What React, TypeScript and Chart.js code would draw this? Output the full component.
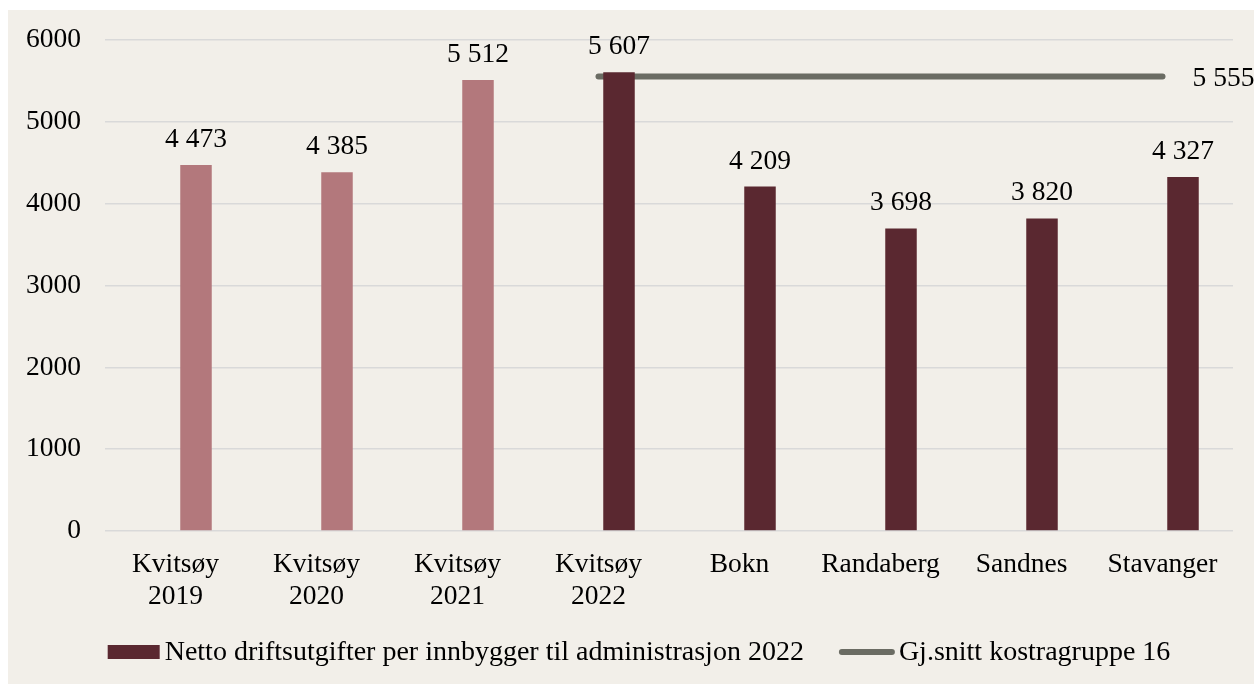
import React, { useEffect, useRef } from "react";
import { Chart, registerables } from "chart.js";

Chart.register(...registerables);

const categories: string[][] = [
  ["Kvitsøy", "2019"],
  ["Kvitsøy", "2020"],
  ["Kvitsøy", "2021"],
  ["Kvitsøy", "2022"],
  ["Bokn"],
  ["Randaberg"],
  ["Sandnes"],
  ["Stavanger"],
];
const barValues: number[] = [4473, 4385, 5512, 5607, 4209, 3698, 3820, 4327];
const averageValues: (number | null)[] = [null, null, null, 5555, 5555, 5555, 5555, 5555];
const yTicks: number[] = [0, 1000, 2000, 3000, 4000, 5000, 6000];
const barLabel = "Netto driftsutgifter per innbygger til administrasjon 2022";
const lineLabel = "Gj.snitt kostragruppe 16";

const PINK = "#B3787C";
const DARK = "#5A2830";
const LINE = "#6B6C63";
const BG = "#F2EFE9";
const GRID = "#D9D9D9";
const FONT = "'Liberation Serif', 'Times New Roman', serif";
const FS = 27.5;
const LFS = 28;
const barColors = barValues.map((_, i) => (i < 3 ? PINK : DARK));

const fmt = (v: number) => String(Math.round(v)).replace(/\B(?=(\d{3})+(?!\d))/g, " ");

const labelsPlugin = {
  id: "customLabels",
  afterDatasetsDraw(chart: any) {
    const ctx = chart.ctx;
    ctx.save();
    ctx.font = `${FS}px ${FONT}`;
    ctx.fillStyle = "#000";
    ctx.textBaseline = "alphabetic";
    const barMeta = chart.getDatasetMeta(1);
    barMeta.data.forEach((el: any, i: number) => {
      const v = barValues[i];
      if (v == null) return;
      ctx.textAlign = "center";
      ctx.fillText(fmt(v), el.x, el.y - 18);
    });
    const lineMeta = chart.getDatasetMeta(2);
    let last = -1;
    averageValues.forEach((v, i) => {
      if (v != null) last = i;
    });
    if (last >= 0) {
      const p = lineMeta.data[last];
      ctx.textAlign = "left";
      ctx.fillText(fmt(averageValues[last] as number), p.x + 30, p.y + 10);
    }
    ctx.restore();
  },
  afterDraw(chart: any) {
    const ctx = chart.ctx;
    ctx.save();
    ctx.font = `${LFS}px ${FONT}`;
    ctx.fillStyle = "#000";
    ctx.textBaseline = "middle";
    ctx.textAlign = "left";
    const w1 = ctx.measureText(barLabel).width;
    const w2 = ctx.measureText(lineLabel).width;
    const total = 52 + 5 + w1 + 35 + 56 + 4 + w2;
    let x = 631 - total / 2;
    const y = 642;
    ctx.fillStyle = DARK;
    ctx.fillRect(x, y - 7, 52, 14);
    x += 57;
    ctx.fillStyle = "#000";
    ctx.fillText(barLabel, x, y + 1);
    x += w1 + 35;
    ctx.strokeStyle = LINE;
    ctx.lineWidth = 6;
    ctx.lineCap = "round";
    ctx.beginPath();
    ctx.moveTo(x + 3, y);
    ctx.lineTo(x + 53, y);
    ctx.stroke();
    x += 60;
    ctx.fillText(lineLabel, x, y + 1);
    ctx.restore();
  },
};

export default function App() {
  const ref = useRef<HTMLCanvasElement | null>(null);
  useEffect(() => {
    document.body.style.margin = "0";
    if (!ref.current) return;
    const chart = new Chart(ref.current, {
      type: "bar",
      data: {
        labels: categories,
        datasets: [
          {
            type: "bar",
            label: "",
            data: barValues.map(() => null),
            backgroundColor: DARK,
          },
          {
            type: "bar",
            label: barLabel,
            data: barValues,
            backgroundColor: barColors,
          } as any,
          {
            type: "line",
            label: lineLabel,
            data: averageValues,
            borderColor: LINE,
            borderWidth: 6,
            borderCapStyle: "round",
            pointRadius: 0,
            pointHoverRadius: 0,
            fill: false,
          } as any,
        ],
      },
      options: {
        responsive: false,
        animation: false,
        devicePixelRatio: 1,
        datasets: {
          bar: { categoryPercentage: 0.5816, barPercentage: 0.768 },
        } as any,
        layout: { padding: { top: 30, right: 21, left: 0, bottom: 0 } },
        plugins: {
          legend: { display: false },
          tooltip: { enabled: false },
        },
        scales: {
          x: {
            grid: { display: false, drawTicks: false },
            border: { display: false },
            ticks: {
              color: "#000",
              font: { family: FONT, size: FS, lineHeight: 1.17 },
              padding: 18,
              maxRotation: 0,
              autoSkip: false,
            },
            afterFit: (scale: any) => {
              scale.height = 153;
            },
          },
          y: {
            min: 0,
            max: 6000,
            afterBuildTicks: (scale: any) => {
              scale.ticks = yTicks.map((v) => ({ value: v }));
            },
            grid: { color: GRID, lineWidth: 1.5, drawTicks: false },
            border: { display: false },
            ticks: {
              color: "#000",
              font: { family: FONT, size: FS },
              padding: 24,
              callback: (v: any) => String(v),
            },
            afterFit: (scale: any) => {
              scale.width = 97;
              scale.paddingTop = 0;
              scale.paddingBottom = 0;
            },
          },
        },
      } as any,
      plugins: [labelsPlugin],
    });
    return () => chart.destroy();
  }, []);
  return (
    <div style={{ paddingTop: 10, paddingLeft: 8 }}>
      <canvas
        ref={ref}
        width={1246}
        height={674}
        style={{ display: "block", width: 1246, height: 674, background: BG }}
      />
    </div>
  );
}
